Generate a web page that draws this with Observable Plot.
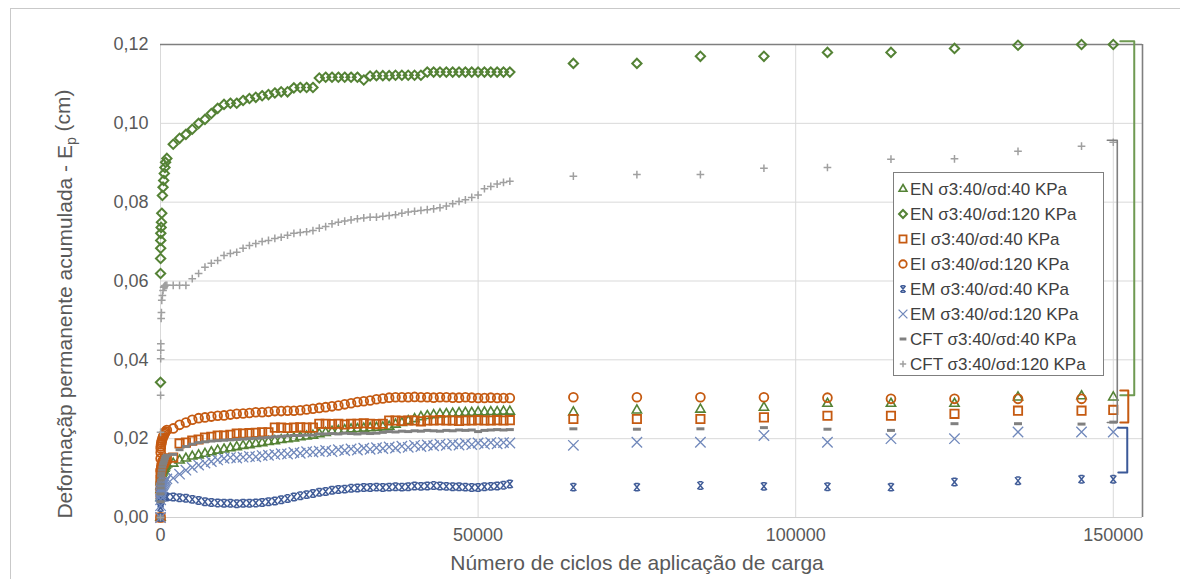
<!DOCTYPE html>
<html><head><meta charset="utf-8">
<script src="https://cdn.jsdelivr.net/npm/d3@7"></script>
<script src="https://cdn.jsdelivr.net/npm/@observablehq/plot@0.6"></script>
<style>
body{margin:0;background:#fff;}
#wrap{position:relative;width:1180px;height:579px;overflow:hidden;font-family:"Liberation Sans",Arial,sans-serif;background:#fff;}
#wrap svg{position:absolute;left:0;top:0;}
#frame{position:absolute;left:10px;top:8px;width:1200px;height:620px;border:1px solid #c9c9c9;box-sizing:border-box;pointer-events:none;}
</style></head><body><div id="wrap"><div id="frame"></div></div>
<script>
// ---------- data ----------
const cycles = [0,10,20,30,40,50,100,150,200,300,400,500,600,700,800,1000,
2000,3000,4000,5000,6000,7000,8000,9000,10000,11000,12000,13000,14000,15000,16000,17000,18000,19000,20000,
21000,22000,23000,24000,25000,26000,27000,28000,29000,30000,31000,32000,33000,34000,35000,36000,37000,38000,39000,40000,
41000,42000,43000,44000,45000,46000,47000,48000,49000,50000,51000,52000,53000,54000,55000,
65000,75000,85000,95000,105000,115000,125000,135000,145000,150000];

const EN40 = [0,.0050,.0070,.0080,.0090,.0095,.0100,.0105,.0110,.0115,.0118,.0120,.0124,.0128,.0132,.0135,
.0137,.0145,.0150,.0155,.0158,.0162,.0166,.0170,.0173,
.0176,.0179,.0182,.0184,.0187,.0189,.0192,.0194,.0197,.0199,
.0201,.0204,.0206,.0208,.0212,.0215,.0218,.0220,.0222,.0224,
.0225,.0226,.0227,.0228,.0229,.0231,.0236,.0240,.0245,.0250,
.0255,.0258,.0260,.0262,.0263,.0264,.0265,.0266,.0266,.0267,
.0267,.0268,.0268,.0269,.0269,
.0267,.0272,.0274,.0279,.0289,.0289,.0289,.0305,.0308,.0305];

const EN120 = [.0343,.0619,.0657,.0683,.0703,.0721,.0736,.0749,.0772,.0817,.0838,.0855,.0873,.0888,.0901,.0911,
.0947,.0962,.0972,.0985,.1000,.1010,.1025,.1038,.1048,
.1051,.1051,.1058,.1063,.1066,.1070,.1073,.1077,.1080,.1080,
.1090,.1091,.1091,.1091,.1115,.1117,.1117,.1117,.1117,.1117,
.1117,.1110,.1120,.1121,.1121,.1121,.1122,.1122,.1122,.1122,
.1122,.1130,.1130,.1130,.1130,.1130,.1130,.1130,.1130,.1130,
.1130,.1130,.1130,.1130,.1130,
.1152,.1152,.1170,.1170,.1180,.1180,.1190,.1198,.1200,.1200];

const EI40 = [0,.0060,.0080,.0095,.0105,.0112,.0120,.0125,.0130,.0135,.0138,.0140,.0143,.0146,.0148,.0150,
.0152,.0188,.0190,.0195,.0198,.0203,.0205,.0208,.0208,
.0210,.0213,.0213,.0214,.0215,.0216,.0216,.0228,.0228,.0227,
.0228,.0229,.0228,.0228,.0238,.0238,.0237,.0238,.0236,.0238,
.0238,.0239,.0238,.0237,.0238,.0246,.0246,.0245,.0246,.0246,
.0244,.0246,.0246,.0247,.0246,.0246,.0245,.0246,.0246,.0247,
.0246,.0246,.0247,.0246,.0247,
.0250,.0250,.0250,.0254,.0258,.0258,.0263,.0271,.0271,.0273];

const EI120 = [0,.0120,.0150,.0165,.0175,.0180,.0186,.0190,.0195,.0200,.0205,.0208,.0212,.0215,.0218,.0222,
.0226,.0235,.0241,.0248,.0252,.0254,.0256,.0258,.0259,
.0261,.0263,.0264,.0265,.0267,.0267,.0268,.0270,.0270,.0271,
.0271,.0272,.0274,.0276,.0278,.0280,.0282,.0284,.0287,.0290,
.0293,.0295,.0297,.0300,.0302,.0304,.0305,.0305,.0305,.0306,
.0305,.0305,.0304,.0305,.0305,.0304,.0304,.0305,.0304,.0303,
.0303,.0304,.0303,.0303,.0303,
.0305,.0305,.0305,.0305,.0304,.0301,.0301,.0301,.0301,null];

const EM40 = [0,.0025,.0035,.0040,.0045,.0048,.0050,.0052,.0053,.0054,.0055,.0055,.0054,.0053,.0053,.0052,
.0052,.0050,.0049,.0046,.0043,.0040,.0038,.0037,.0036,
.0036,.0035,.0036,.0036,.0037,.0038,.0040,.0042,.0045,.0048,
.0052,.0055,.0058,.0061,.0064,.0066,.0069,.0071,.0072,.0074,
.0075,.0076,.0076,.0077,.0076,.0077,.0078,.0077,.0078,.0080,
.0079,.0080,.0081,.0080,.0079,.0078,.0078,.0077,.0076,.0076,
.0078,.0079,.0080,.0082,.0085,
.0077,.0077,.0081,.0079,.0078,.0077,.0090,.0093,.0097,.0097];

const EM120 = [0,.0030,.0045,.0055,.0060,.0065,.0070,.0073,.0076,.0080,.0083,.0086,.0089,.0092,.0095,.0098,
.0100,.0110,.0120,.0127,.0133,.0138,.0142,.0146,.0150,
.0152,.0151,.0153,.0155,.0154,.0157,.0158,.0160,.0162,.0161,
.0165,.0163,.0167,.0166,.0168,.0170,.0167,.0172,.0170,.0174,
.0171,.0176,.0173,.0177,.0175,.0179,.0176,.0181,.0178,.0183,
.0180,.0184,.0182,.0186,.0183,.0187,.0184,.0188,.0185,.0189,
.0186,.0190,.0187,.0190,.0189,
.0183,.0191,.0191,.0208,.0191,.0200,.0200,.0217,.0217,.0217];

const CFT40 = [0,.0040,.0060,.0075,.0085,.0095,.0105,.0112,.0120,.0128,.0135,.0140,.0145,.0150,.0155,.0158,
.0160,.0172,.0180,.0186,.0190,.0192,.0194,.0195,.0196,
.0197,.0198,.0199,.0200,.0201,.0202,.0203,.0205,.0206,.0207,
.0208,.0208,.0209,.0209,.0212,.0212,.0213,.0212,.0214,.0213,
.0212,.0214,.0213,.0214,.0216,.0218,.0217,.0219,.0218,.0220,
.0219,.0221,.0220,.0219,.0221,.0220,.0222,.0221,.0222,.0218,
.0221,.0222,.0223,.0222,.0223,
.0225,.0224,.0225,.0228,.0224,.0221,.0238,.0238,.0237,.0242];

const CFT120 = [0,.0216,.0310,.0403,.0424,.0441,.0505,.0520,.0551,.0563,.0576,.0584,.0586,.0588,.0589,.0589,
.0589,.0589,.0589,.0606,.0619,.0635,.0645,.0652,.0665,
.0670,.0673,.0683,.0690,.0695,.0700,.0703,.0708,.0711,.0716,
.0721,.0723,.0725,.0728,.0734,.0738,.0745,.0749,.0752,.0755,
.0758,.0760,.0762,.0762,.0764,.0766,.0768,.0772,.0775,.0777,
.0779,.0781,.0783,.0786,.0790,.0796,.0802,.0806,.0812,.0818,
.0834,.0840,.0846,.0850,.0853,
.0866,.0870,.0870,.0886,.0888,.0909,.0910,.0929,.0942,.0952];

const seriesNames = ["EN σ3:40/σd:40 KPa","EN σ3:40/σd:120 KPa","EI σ3:40/σd:40 KPa","EI σ3:40/σd:120 KPa",
  "EM σ3:40/σd:40 KPa","EM σ3:40/σd:120 KPa","CFT σ3:40/σd:40 KPa","CFT σ3:40/σd:120 KPa"];
const seriesValues = [EN40, EN120, EI40, EI120, EM40, EM120, CFT40, CFT120];

const xTicks = [0, 50000, 100000, 150000];
const yTicks = [0, 0.02, 0.04, 0.06, 0.08, 0.10, 0.12];

// bracket annotations (group, top value, bottom value)
const bracketGroups = ["EN", "CFT", "EI", "EM"];
const bracketTop = [0.1208, 0.0957, 0.0322, 0.0228];
const bracketBottom = [0.0310, 0.0241, 0.0241, 0.0114];

// ---------- styles ----------
const dash = {draw(ctx, size) { const r = Math.sqrt(size) * 0.5; ctx.moveTo(-r, 0); ctx.lineTo(r, 0); }};
const star = {draw(ctx, size) {
  const r = Math.sqrt(size) * 0.5, w = r * 0.8, c = r * 0.5;
  ctx.moveTo(-w, -r); ctx.lineTo(w, r);
  ctx.moveTo(w, -r); ctx.lineTo(-w, r);
  ctx.moveTo(-c, -r); ctx.lineTo(c, -r);
  ctx.moveTo(-c, r); ctx.lineTo(c, r);
}};
const styles = [
  {symbol: d3.symbolTriangle2, stroke: "#548235", r: 4.4, sw: 1.6},
  {symbol: d3.symbolDiamond2, stroke: "#548235", r: 4.2, sw: 2},
  {symbol: d3.symbolSquare2, stroke: "#c55a11", r: 5.3, sw: 1.8},
  {symbol: d3.symbolCircle, stroke: "#c55a11", r: 4.4, sw: 1.8},
  {symbol: star, stroke: "#3f5b97", r: 4.2, sw: 1.5},
  {symbol: d3.symbolTimes, stroke: "#7088bb", r: 4.8, sw: 1.3},
  {symbol: dash, stroke: "#808080", r: 4.5, sw: 3},
  {symbol: d3.symbolPlus, stroke: "#a0a0a0", r: 2.6, sw: 1.5}
];
const bracketStyle = [
  {x0: 151100, x1: 153300, stroke: "#6f9a52", sw: 2},
  {x0: 149060, x1: 150630, stroke: "#7f7f7f", sw: 1.6},
  {x0: 151100, x1: 152360, stroke: "#c55a11", sw: 2},
  {x0: 150790, x1: 152200, stroke: "#3b5998", sw: 2}
];

// ---------- table ----------
const table = seriesNames.flatMap((name, s) =>
  cycles.map((c, i) => ({cycles: c, value: seriesValues[s][i], series: name})));

const dotMarks = seriesNames.map((name, s) =>
  Plot.dot(table.filter(d => d.series === name && d.value != null), {
    x: "cycles", y: "value", symbol: styles[s].symbol, r: styles[s].r,
    stroke: styles[s].stroke, strokeWidth: styles[s].sw, fill: "none"
  }));

const bracketMarks = bracketGroups.map((g, i) => {
  const st = bracketStyle[i];
  const pts = [
    {x: st.x0, y: bracketTop[i]}, {x: st.x1, y: bracketTop[i]},
    {x: st.x1, y: bracketBottom[i]}, {x: st.x0, y: bracketBottom[i]}
  ];
  return Plot.line(pts, {x: "x", y: "y", stroke: st.stroke, strokeWidth: st.sw});
});

const xMax = 154600;
const chart = Plot.plot({
  width: 1180, height: 579,
  marginLeft: 160, marginRight: 38, marginTop: 44, marginBottom: 62,
  style: {fontFamily: "'Liberation Sans', Arial, sans-serif", fontSize: "18px", color: "#595959", background: "transparent"},
  x: {domain: [0, xMax], ticks: xTicks, tickFormat: d => String(d), tickSize: 0, tickPadding: 11, label: null},
  y: {domain: [0, 0.12], ticks: yTicks, tickFormat: d => d.toFixed(2).replace(".", ","), tickSize: 0, tickPadding: 12, label: null},
  marks: [
    Plot.gridY(yTicks, {stroke: "#d9d9d9", strokeOpacity: 1}),
    Plot.gridX(xTicks, {stroke: "#d9d9d9", strokeOpacity: 1}),
    Plot.ruleY([0], {stroke: "#d0d0d0", strokeWidth: 1.2}),
    Plot.ruleY([0.12], {stroke: "#7f7f7f", strokeWidth: 1.6}),
    Plot.ruleX([xMax], {stroke: "#7f7f7f", strokeWidth: 1.6}),
    ...dotMarks,
    ...bracketMarks
  ]
});

const svg = d3.select(chart);
// axis titles
svg.append("text").attr("x", 637).attr("y", 570).attr("text-anchor", "middle")
  .attr("fill", "#595959").style("font-size", "21px").text("Número de ciclos de aplicação de carga");
const yt = svg.append("text").attr("transform", "translate(72,304) rotate(-90)").attr("text-anchor", "middle")
  .attr("fill", "#595959").style("font-size", "21px");
yt.append("tspan").text("Deformaçãp permanente acumulada - E");
yt.append("tspan").attr("dy", "0.3em").style("font-size", "14px").text("p");
yt.append("tspan").attr("dy", "-0.3em").text(" (cm)");

// legend
const lg = svg.append("g");
lg.append("rect").attr("x", 893.5).attr("y", 172.5).attr("width", 210).attr("height", 203)
  .attr("fill", "white").attr("stroke", "#7f7f7f").attr("stroke-width", 1);
seriesNames.forEach((name, i) => {
  const cy = 189 + 25 * i, st = styles[i];
  const rr = st.r * 0.85;
  lg.append("path").attr("d", d3.symbol(st.symbol, Math.PI * rr * rr)())
    .attr("transform", `translate(903,${cy})`).attr("fill", "none")
    .attr("stroke", st.stroke).attr("stroke-width", st.sw);
  lg.append("text").attr("x", 910).attr("y", cy).attr("dy", "0.36em").attr("text-anchor", "start")
    .attr("fill", "#404040").style("font-size", "17px").text(name);
});

document.getElementById("wrap").prepend(chart);
</script></body></html>
